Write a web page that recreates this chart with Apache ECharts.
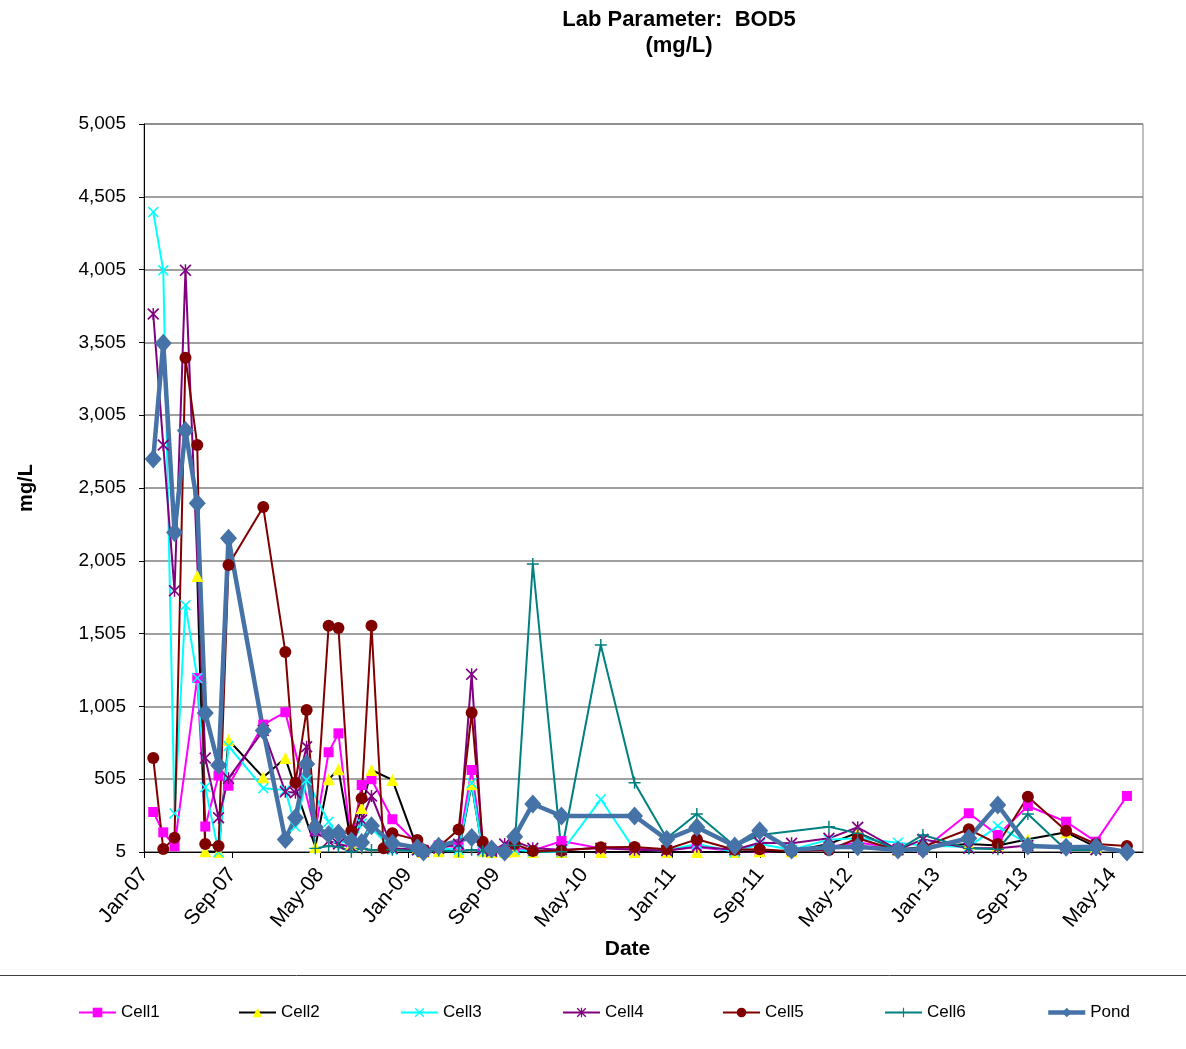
<!DOCTYPE html>
<html>
<head>
<meta charset="utf-8">
<script src="https://cdn.jsdelivr.net/npm/echarts@6/dist/echarts.min.js"></script>
<style>
html,body{margin:0;padding:0;background:#fff;}
#chart{width:1186px;height:1049px;}
</style>
</head>
<body>
<div id="chart"></div>
<script>
// ---- data ----
const sampleDates = [
 '2007-01-27','2007-02-22','2007-03-25','2007-04-24','2007-05-27','2007-06-18','2007-07-25','2007-08-22',
 '2007-11-26','2008-01-27','2008-02-23','2008-03-25','2008-04-18','2008-05-25','2008-06-21','2008-07-27',
 '2008-08-25','2008-09-21','2008-10-25','2008-11-18','2009-01-27','2009-02-12','2009-03-25','2009-05-19',
 '2009-06-24','2009-07-25','2009-08-19','2009-09-24','2009-10-22','2009-12-11','2010-02-27','2010-06-16',
 '2010-09-18','2010-12-16','2011-03-08','2011-06-21','2011-08-30','2011-11-26','2012-03-08','2012-05-27',
 '2012-09-16','2012-11-24','2013-03-30','2013-06-18','2013-09-10','2013-12-25','2014-03-16','2014-06-10'
];
const cell1 = [280,140,45,null,1200,180,530,460, 880,965,null,null,150,690,820,60, 465,505,null,230,60,20,50,40,
 568,30,20,10,30,15,80,30, 35,15,40,10,5,15,40,70, 30,20,271,122,321,213,76,390];
const cell2 = [null,null,null,null,1900,10,5,774, 518,650,null,null,40,504,573,60, 307,568,null,500,30,5,10,5,
 470,10,5,5,10,5,5,5, 5,5,5,5,10,10,60,138, 20,40,60,50,92,140,40,null];
const cell3 = [4400,4000,270,1700,1200,450,5,733, 443,431,179,500,null,213,100,40, 200,170,null,20,15,10,30,20,
 479,10,5,5,20,10,5,367, 20,15,60,5,60,20,90,100, 69,50,40,184,60,30,19,null];
const cell4 = [3700,2800,1800,4000,null,650,240,511, 840,419,412,728,150,80,60,40, 225,390,null,30,20,10,30,60,
 1225,20,10,60,80,30,20,30, 20,15,41,20,69,65,99,175, 20,92,30,30,50,30,20,null];
const cell5 = [650,25,103,3400,2800,60,46,1976, 2374,1379,481,980,180,1559,1543,151, 374,1559,30,133,87,20,40,160,
 962,76,20,10,60,12,14,37, 39,24,92,20,24,10,19,99, 15,40,161,60,385,151,60,46];
const cell6 = [null,null,null,null,null,null,null,null, null,null,null,600,30,46,41,7, 30,19,null,20,10,10,15,10,
 20,10,10,15,50,1983,7,1427, 481,99,266,46,122,null,179,133, 20,122,30,24,266,19,19,null];
const pond  = [2705,3500,2200,2900,2400,960,600,2160, 840,90,240,610,175,125,135,80, 70,185,null,65,35,5,45,null,
 105,null,25,5,110,335,252,null, 252,92,175,46,151,19,37,41, 19,24,99,328,46,37,41,5];
const tickLabels = ['Jan-07','Sep-07','May-08','Jan-09','Sep-09','May-10','Jan-11','Sep-11','May-12','Jan-13','Sep-13','May-14'];
const seriesNames = ['Cell1','Cell2','Cell3','Cell4','Cell5','Cell6','Pond'];

// ---- helpers ----
function toMonths(s){
  const p = s.split('-').map(Number);
  const dim = new Date(p[0], p[1], 0).getDate();
  return (p[0]-2007)*12 + (p[1]-1) + (p[2]-1)/dim;
}
const xs = sampleDates.map(toMonths);
function pairs(vals){ return vals.map((v,i)=>[xs[i], v]); }

const FONT = 'Liberation Sans, Arial, sans-serif';
const X_PATH = 'path://M0,1 L1,0 L5,4 L9,0 L10,1 L6,5 L10,9 L9,10 L5,6 L1,10 L0,9 L4,5 Z';
const AST_PATH = 'path://M0,1 L1,0 L5,4 L9,0 L10,1 L6,5 L10,9 L9,10 L5,6 L1,10 L0,9 L4,5 Z M4.4,0 L5.6,0 L5.6,10 L4.4,10 Z';
const PLUS_PATH = 'path://M4.4,0 L5.6,0 L5.6,4.4 L10,4.4 L10,5.6 L5.6,5.6 L5.6,10 L4.4,10 L4.4,5.6 L0,5.6 L0,4.4 L4.4,4.4 Z';

const styles = {
  Cell1:{line:'#FF00FF', mark:'#FF00FF', symbol:'rect', size:10, width:2},
  Cell2:{line:'#000000', mark:'#FFFF00', symbol:'triangle', size:12, width:2},
  Cell3:{line:'#00FFFF', mark:'#00FFFF', symbol:X_PATH, size:11, width:2},
  Cell4:{line:'#800080', mark:'#800080', symbol:AST_PATH, size:12, width:2},
  Cell5:{line:'#800000', mark:'#800000', symbol:'circle', size:12, width:2},
  Cell6:{line:'#008080', mark:'#008080', symbol:PLUS_PATH, size:12, width:2},
  Pond:{line:'#4572A7', mark:'#4572A7', symbol:'diamond', size:[17,19], width:4.5}
};
const dataMap = {Cell1:cell1, Cell2:cell2, Cell3:cell3, Cell4:cell4, Cell5:cell5, Cell6:cell6, Pond:pond};

const series = seriesNames.map(n => ({
  name:n, type:'line', data:pairs(dataMap[n]), connectNulls:true,
  symbol:styles[n].symbol, symbolSize:styles[n].size,
  lineStyle:{color:styles[n].line, width:styles[n].width},
  itemStyle:{color:styles[n].mark, borderWidth:0},
  showAllSymbol:true
}));

const legendLefts = [78,238,400,562,722,884,1046];
const legends = seriesNames.map((n,i)=>({
  data:[{name:n, itemStyle:{color:styles[n].mark}, lineStyle:{color:styles[n].line, width:styles[n].width}}],
  left:legendLefts[i], top:1004, padding:0, itemWidth:37, itemHeight:12, itemGap:5,
  textStyle:{fontFamily:FONT, fontSize:17, color:'#000'}
}));

const chart = echarts.init(document.getElementById('chart'), null, {renderer:'canvas'});
chart.setOption({
  animation:false,
  backgroundColor:'#fff',
  title:{
    text:'Lab Parameter:  BOD5\n(mg/L)', left:674, top:2, textAlign:'center',
    textStyle:{fontFamily:FONT, fontSize:22, fontWeight:'bold', color:'#000', lineHeight:26}
  },
  legend:legends,
  grid:{left:144, right:43, top:124, bottom:197, show:true, borderColor:'#808080', borderWidth:1},
  xAxis:{
    type:'value', min:0, max:90.76, interval:8,
    name:'Date', nameLocation:'middle', nameGap:86,
    nameTextStyle:{fontFamily:FONT, fontSize:21, fontWeight:'bold', color:'#000', padding:[0,32,0,0]},
    axisLine:{lineStyle:{color:'#000', width:1}},
    axisTick:{show:true, length:6, inside:false, lineStyle:{color:'#000'}},
    splitLine:{show:false},
    axisLabel:{
      rotate:50, fontFamily:FONT, fontSize:21, color:'#000', margin:19, showMaxLabel:false,
      formatter:function(v){ const k = Math.round(v/8); return (Math.abs(v-k*8)<1e-6 && tickLabels[k]) ? tickLabels[k] : ''; }
    }
  },
  yAxis:{
    type:'value', min:5, max:5005, interval:500,
    name:'mg/L', nameLocation:'middle', nameGap:108,
    nameTextStyle:{fontFamily:FONT, fontSize:20, fontWeight:'bold', color:'#000'},
    axisLine:{show:true, lineStyle:{color:'#000', width:1}},
    axisTick:{show:true, length:5, lineStyle:{color:'#000'}},
    splitLine:{show:true, lineStyle:{color:'#808080', width:1.5}},
    axisLabel:{fontFamily:FONT, fontSize:19, color:'#000', margin:18,
      formatter:function(v){ return v.toLocaleString('en-US'); }}
  },
  graphic:[{type:'line', shape:{x1:0, y1:975.5, x2:1186, y2:975.5}, style:{stroke:'#404040', lineWidth:1}, silent:true}],
  series:series
});
</script>
</body>
</html>
